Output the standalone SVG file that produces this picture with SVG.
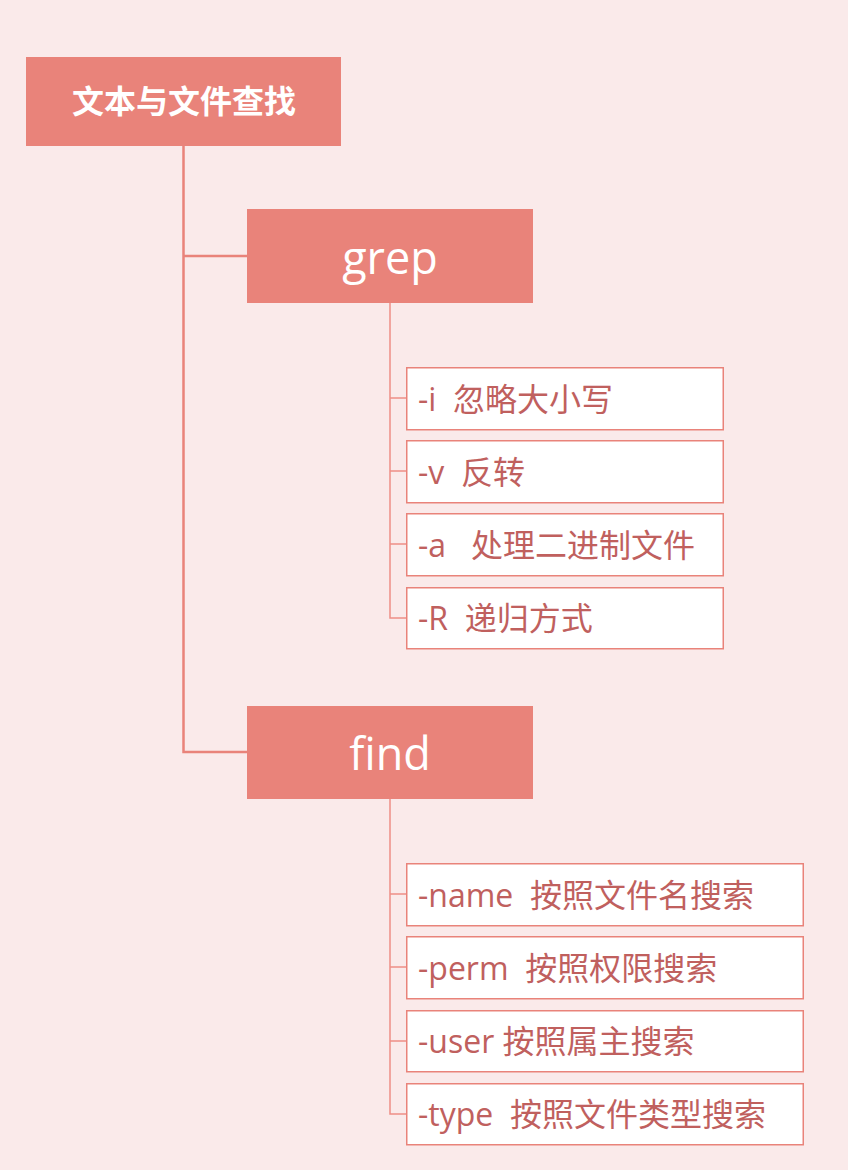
<svg xmlns="http://www.w3.org/2000/svg" width="848" height="1170" viewBox="0 0 848 1170">
<style>
.main{fill:#E9837A}
.mt{fill:#FFFFFF;font-family:"Open Sans","Noto Sans CJK SC",sans-serif;font-size:45px;text-anchor:middle}
.rt{fill:#FFFFFF;font-family:"Noto Sans CJK SC",sans-serif;font-size:32px;font-weight:bold;text-anchor:middle}
.sub{fill:#FFFFFF;stroke:#E9837A;stroke-width:1.5}
.st{fill:#C0605E;font-family:"Open Sans","Noto Sans CJK SC",sans-serif;font-size:32px;white-space:pre}
.ln{fill:none;stroke:#E9837A;stroke-width:2.5}
.ln2{fill:none;stroke:#EE8F87;stroke-width:1.5}
</style>
<rect x="0" y="0" width="848" height="1170" fill="#FAEAEA"/>
<g id="connectors">
<path class="ln" d="M183.5 146 V752 H247 M183.5 256 H247"/>
<path class="ln2" d="M390 303 V618 H406 M390 398 H406 M390 471 H406 M390 544 H406"/>
<path class="ln2" d="M390 799 V1114 H406 M390 894 H406 M390 967 H406 M390 1041 H406"/>
</g>
<g id="root"><rect class="main" x="26" y="57" width="315" height="89"/><text class="rt" x="184" y="113">文本与文件查找</text></g>
<g id="grep"><rect class="main" x="247" y="209" width="286" height="94"/><text class="mt" x="390" y="274">grep</text></g>
<g id="find"><rect class="main" x="247" y="706" width="286" height="93"/><text class="mt" x="390" y="770">find</text></g>
<g id="g1"><rect class="sub" x="406.75" y="367.75" width="316.5" height="62"/><text class="st" x="418" y="411">-i  忽略大小写</text></g>
<g id="g2"><rect class="sub" x="406.75" y="440.75" width="316.5" height="62"/><text class="st" x="418" y="484">-v  反转</text></g>
<g id="g3"><rect class="sub" x="406.75" y="513.75" width="316.5" height="62"/><text class="st" x="418" y="557">-a   处理二进制文件</text></g>
<g id="g4"><rect class="sub" x="406.75" y="587.75" width="316.5" height="61"/><text class="st" x="418" y="630">-R  递归方式</text></g>
<g id="f1"><rect class="sub" x="406.75" y="863.75" width="396.5" height="62"/><text class="st" x="418" y="907">-name  按照文件名搜索</text></g>
<g id="f2"><rect class="sub" x="406.75" y="936.75" width="396.5" height="62"/><text class="st" x="418" y="980">-perm  按照权限搜索</text></g>
<g id="f3"><rect class="sub" x="406.75" y="1010.75" width="396.5" height="61"/><text class="st" x="418" y="1053">-user 按照属主搜索</text></g>
<g id="f4"><rect class="sub" x="406.75" y="1083.75" width="396.5" height="61"/><text class="st" x="418" y="1126">-type  按照文件类型搜索</text></g>
</svg>
